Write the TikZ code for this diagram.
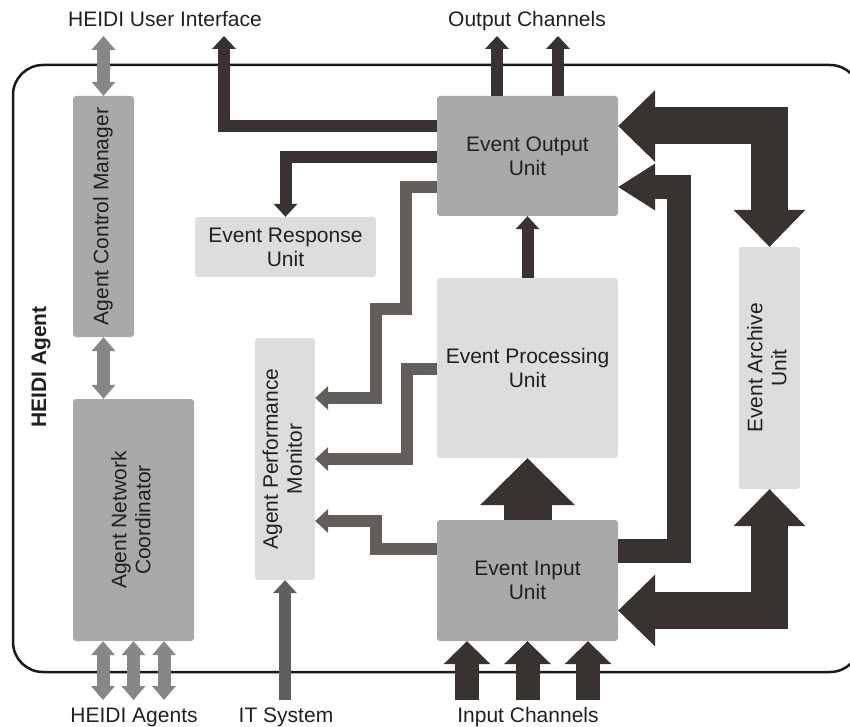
\documentclass[tikz,border=0pt]{standalone}
\usepackage{fontspec}
\setmainfont{Liberation Sans}
\usepackage{graphicx}
\usetikzlibrary{arrows.meta}
\definecolor{boxmid}{HTML}{A9A9A9}
\definecolor{boxlight}{HTML}{DDDDDD}
\definecolor{darkc}{HTML}{383330}
\definecolor{ctlgray}{HTML}{878787}
\definecolor{mongray}{HTML}{625E5B}
\definecolor{inkc}{HTML}{231F20}
\newcommand{\vtext}[1]{\rotatebox{90}{\begin{tabular}{@{}c@{}}#1\end{tabular}}}
\tikzset{unit/.style={rounded corners=3pt, inner sep=0pt, align=center, text=inkc, font=\fontsize{21}{24}\selectfont},
  midunit/.style={unit, fill=boxmid}, lightunit/.style={unit, fill=boxlight},
  lbl/.style={anchor=base, text=inkc, font=\fontsize{21}{24}\selectfont}}
\tikzset{ctlarrow/.style={draw=ctlgray, line width=13pt, line join=miter, {Triangle[width=24pt,length=14pt,line width=0pt]}-{Triangle[width=24pt,length=14pt,line width=0pt]}},
  outarrow/.style={draw=darkc, line width=12pt, line join=miter, -{Triangle[width=24pt,length=13pt,line width=0pt]}},
  monarrow/.style={draw=mongray, line width=12pt, line join=miter, -{Triangle[width=24pt,length=13pt,line width=0pt]}},
  inarrow/.style={draw=darkc, line width=24pt, line join=miter, -{Triangle[width=47pt,length=23pt,line width=0pt]}},
  looparrow/.style={draw=darkc, line width=24pt, line join=miter, -{Triangle[width=47pt,length=37pt,line width=0pt]}},
  archarrow/.style={draw=darkc, line width=37pt, line join=miter, {Triangle[width=72pt,length=37pt,line width=0pt]}-{Triangle[width=72pt,length=37pt,line width=0pt]}},
  feedarrow/.style={draw=darkc, line width=48pt, line join=miter, -{Triangle[width=95pt,length=47pt,line width=0pt]}}}

\begin{document}
\begin{tikzpicture}[x=1pt,y=-1pt]
	\useasboundingbox (0,0) rectangle (850,727);
	\clip (0,0) rectangle (850,727);
	% agent frame
	\draw[line width=2.5pt, draw=black!90, rounded corners=30pt] (13,65) rectangle (860,672);
	\node[rotate=90, text=inkc, font=\fontsize{21}{24}\selectfont\bfseries] (agent) at (41,367) {HEIDI Agent};

	\coordinate (roof) at (0,36);
	\coordinate (floor) at (0,700);
	\coordinate (ui) at (224,36);

	% units
	\node[midunit, minimum width=61pt, minimum height=241pt] (acm) at (103.5,216.5) {\vtext{Agent Control Manager}};
	\node[midunit, minimum width=121pt, minimum height=242pt] (anc) at (133.5,520) {\vtext{Agent Network\\Coordinator}};
	\node[lightunit, minimum width=60pt, minimum height=242pt] (apm) at (285,459) {\vtext{Agent Performance\\Monitor}};
	\node[lightunit, minimum width=181pt, minimum height=60pt] (eru) at (285.5,247) {Event Response\\Unit};
	\node[midunit, minimum width=181pt, minimum height=120pt] (eou) at (527.5,156) {Event Output\\Unit};
	\node[lightunit, minimum width=181pt, minimum height=180pt] (epu) at (527.5,368) {Event Processing\\Unit};
	\node[midunit, minimum width=181pt, minimum height=121pt] (eiu) at (527.5,580.5) {Event Input\\Unit};
	\node[lightunit, minimum width=61pt, minimum height=242pt] (eau) at (769.5,368) {\vtext{Event Archive\\Unit}};

	% outside labels
	\node[lbl] (uilbl) at (165,27) {HEIDI User Interface};
	\node[lbl] (outlbl) at (527,27) {Output Channels};
	\node[lbl] (aglbl) at (134,722) {HEIDI Agents};
	\node[lbl] (itlbl) at (286,722) {IT System};
	\node[lbl] (inlbl) at (528,722) {Input Channels};

	% agent control
	\draw[ctlarrow] (acm.north) -- (acm.north |- roof);
	\draw[ctlarrow] (acm.south) -- (acm.south |- anc.north);
	\foreach \dx in {-30.5,0,30.5}
		\draw[ctlarrow] ([xshift=\dx pt]anc.south) -- ([xshift=\dx pt]anc.south |- floor);

	% event flow
	\foreach \dx in {-60.5,0,60.5}
		\draw[inarrow] ([xshift=\dx pt]eiu.south |- floor) -- ([xshift=\dx pt]eiu.south);
	\draw[feedarrow] (eiu.north) -- (epu.south);
	\draw[outarrow] (epu.north) -- (eou.south);
	\foreach \dx in {-30.5,30.5}
		\draw[outarrow] ([xshift=\dx pt]eou.north) -- ([xshift=\dx pt]eou.north |- roof);
	\draw[outarrow] ([yshift=30pt]eou.west) -| (ui);
	\draw[outarrow] ([yshift=-1pt]eou.west) -| (eru.north);
	\draw[looparrow] ([yshift=30pt]eiu.east) -- ++(61,0) |- ([yshift=-31pt]eou.east);
	\draw[archarrow] ([yshift=30pt]eou.east) -| (eau.north);
	\draw[archarrow] (eau.south) |- ([yshift=-30pt]eiu.east);

	% performance monitor
	\draw[monarrow] ([yshift=-31pt]eou.west) -- ++(-31,0) -- ++(0,122) -- ++(-30,0) |- ([yshift=61pt]apm.east);
	\draw[monarrow] ([yshift=-1pt]epu.west) -- ++(-30,0) |- (apm.east);
	\draw[monarrow] ([yshift=31.5pt]eiu.west) -- ++(-61,0) |- ([yshift=-62pt]apm.east);
	\draw[monarrow] (apm.south |- floor) -- (apm.south);
\end{tikzpicture}
\end{document}
